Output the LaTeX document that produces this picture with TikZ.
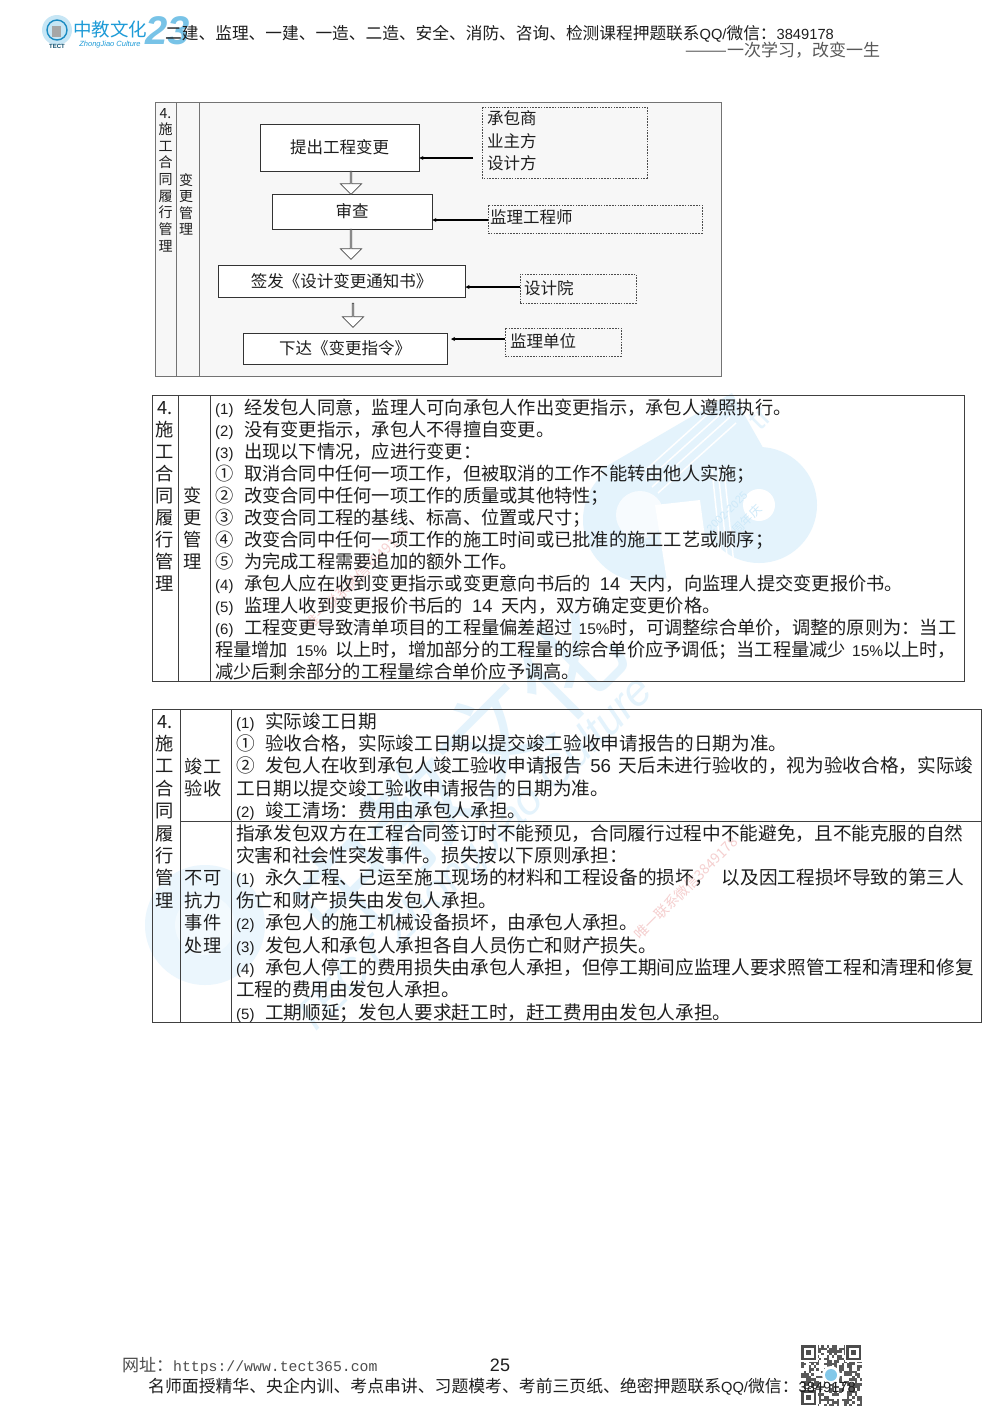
\documentclass[tikz,border=0pt]{standalone}
\usepackage{fontspec}
\setmainfont{Noto Sans CJK SC}
\newfontfamily\latf{Liberation Sans}
\newfontfamily\monof{Liberation Mono}
\usetikzlibrary{shapes.arrows,calc,arrows.meta}
\definecolor{ink}{HTML}{1E1E1E}
\definecolor{wm}{HTML}{E4F3FC}
\definecolor{wmb}{HTML}{CDE9F9}
\definecolor{wmr}{HTML}{F5CFCF}
\definecolor{brand}{HTML}{1E9BD7}
\newcommand{\fs}[1]{\fontsize{#1}{#1}\selectfont}
\newcommand{\Lat}[1]{{\latf #1}}
\newcommand{\Num}[1]{\makebox[29pt][l]{\latf\fs{15}(#1)}}
\newcommand{\Cir}[1]{\makebox[29pt][l]{#1}}
\tikzset{
  txt/.style={anchor=base west,inner sep=0pt,text=ink,font=\fs{18.25},yshift=-7pt},
  tbl/.style={anchor=base west,inner sep=0pt,text=ink,font=\fs{18.65},yshift=-7pt},
  ctr/.style={anchor=base,inner sep=0pt,text=ink,font=\fs{18.25},yshift=-7pt},
  small/.style={anchor=base,inner sep=0pt,text=ink,font=\fs{14},yshift=-5pt},
  lbl/.style={anchor=base west,inner sep=0pt,text=ink,font=\fs{16.5},yshift=-6.6pt},
  head/.style={anchor=base west,inner sep=0pt,text=ink,yshift=-6pt},
  rule/.style={draw=black!75,line width=0.9pt},
  flow/.style={draw=black!80,line width=0.8pt,fill=white,inner sep=0pt,text=ink,font=\fs{16.5}},
  dbox/.style={draw=black!70,dashed,dash pattern=on 1.6pt off 1.2pt,line width=0.7pt},
  leader/.style={draw=black,line width=1.1pt,-{Stealth[length=4pt,width=4pt]}},
  openarrow/.style={single arrow,draw=black!70,fill=white,line width=0.7pt,inner sep=0pt,minimum width=21pt,single arrow head extend=5.2pt,rotate=-90},
  wmtxt/.style={inner sep=0pt,text=wm,rotate=45},
  redmark/.style={inner sep=0pt,text=wmr,rotate=45,font=\fs{14}},
}
\begin{document}
\begin{tikzpicture}[x=1pt,y=-1pt]
\useasboundingbox (0,0) rectangle (1000,1414);
\fill[white] (0,0) rectangle (1000,1414);

% ---------- watermark ----------
\fill[wm] (645,520) circle[radius=62pt];
\fill[wm] (600,470) -- (732,393) -- (770,460) -- (690,560) -- cycle;
\fill[wm] (759,505) circle[radius=58pt];
\fill[white] (759,505) circle[radius=16pt];
\fill[white!70!wm] (640,515) circle[radius=24pt];
\fill[white] (700,500) -- (712,590) -- (670,600) -- (655,505) -- cycle;
\foreach \d in {0,6,12,18}{
  \draw[white,line width=1.5pt] ($(640,475)+(\d,\d)$) -- ($(718,405)+(\d,\d)$);
}
\foreach \d in {0,6,12}{
  \draw[white,line width=1.5pt] ($(712,470)+(\d,0)$) -- ($(722,565)+(\d,0)$);
}
\node[wmtxt,font=\latf\fs{30}] (wmtr) at (760,418) {tr};
\node[wmtxt,text=wmb,font=\latf\fs{11}] (wmy) at (727,512) {2002-2025};
\node[wmtxt,text=wmb,font=\fs{12}] (wmz) at (747,520) {周年庆};
\node[wmtxt,font=\fs{105}] (wmbig) at (455,775) {中教文化};
\node[wmtxt,font=\latf\itshape\fs{44}] (wmcult) at (475,857) {TECT ZhongJiao Culture};
\fill[wm!75] (205,925) circle[radius=60pt];
\fill[white!55!wm] (205,925) circle[radius=30pt];
\node[redmark] (red1) at (357,578) {唯一联系微信3849178};
\node[redmark] (red2) at (686,888) {唯一联系微信3849178};

% ---------- header ----------
\fill[brand!25] (57,30) circle[radius=15pt];
\fill[black!35] (52,26) rectangle (61,37);
\draw[brand!90!black,line width=1.4pt] (57,30) circle[radius=10pt];
\node[inner sep=0pt,font=\latf\bfseries\fs{6},text=brand!50!black] (tect) at (57,46) {TECT};
\node[inner sep=0pt,font=\fs{18.5},text=brand] (zj) at (110,29) {中教文化};
\node[inner sep=0pt,font=\latf\itshape\fs{7.5},text=brand] (zjc) at (110,45) {ZhongJiao Culture};
\node[inner sep=0pt,font=\latf\bfseries\itshape\fs{40},text=brand!60] (n23) at (168,31) {23};
\node[head,font=\fs{16.7}] (h1) at (165,33) {二建、监理、一建、一造、二造、安全、消防、咨询、检测课程押题联系\Lat{\fs{14.7}QQ/}微信：\Lat{\fs{14.7}3849178}};
\node[head,font=\fs{17},text=black!65] (h2) at (685,50) {———一次学习，改变一生};

% ---------- table 1: flow panel ----------
\draw[rule,draw=black!55,fill=black!3] (155,102) rectangle (721,376);
\draw[rule,draw=black!55] (176,102) -- (176,376);
\draw[rule,draw=black!55] (199,102) -- (199,376);
\foreach \n/\t/\y in {c1/4./113,c2/施/129,c3/工/146,c4/合/162,c5/同/179,c6/履/196,c7/行/212,c8/管/229,c9/理/246}
  \node[small] (\n) at (165.5,\y) {\t};
\foreach \n/\t/\y in {d1/变/180,d2/更/196,d3/管/213,d4/理/229}
  \node[small] (\n) at (186,\y) {\t};

\node[flow,minimum width=159pt,minimum height=47pt] (b1) at (339.5,147.5) {提出工程变更};
\node[flow,minimum width=160pt,minimum height=35pt] (b2) at (352,211.5) {审查};
\node[flow,minimum width=247pt,minimum height=32pt,line width=1pt] (b3) at (341.5,281) {签发《设计变更通知书》};
\node[flow,minimum width=204pt,minimum height=31pt] (b4) at (345,348.5) {下达《变更指令》};

\node[openarrow,minimum height=23pt] (a1) at (351,182.5) {};
\node[openarrow,minimum height=30pt] (a2) at (351,244) {};
\node[openarrow,minimum height=24pt] (a3) at (353,315) {};

\draw[dbox] (482,107) rectangle (647,178);
\node[lbl] (l1) at (487,118) {承包商};
\node[lbl] (l2) at (487,141) {业主方};
\node[lbl] (l3) at (487,163) {设计方};
\node[dbox,draw,minimum width=214pt,minimum height=28pt,inner sep=0pt] (e2) at (595,219) {};
\node[lbl] (l4) at (490,217) {监理工程师};
\node[dbox,draw,minimum width=116pt,minimum height=29pt,inner sep=0pt] (e3) at (578,288.5) {};
\node[lbl] (l5) at (524,288) {设计院};
\node[dbox,draw,minimum width=116pt,minimum height=28pt,inner sep=0pt] (e4) at (563,342) {};
\node[lbl] (l6) at (510,341) {监理单位};

\coordinate (s1) at (473,158);
\draw[leader] (s1) -- (b1.east |- s1);
\coordinate (s2) at (488,220);
\draw[leader] (e2.west |- s2) -- (b2.east |- s2);
\coordinate (s3) at (520,287);
\draw[leader] (e3.west |- s3) -- (b3.east |- s3);
\coordinate (s4) at (505,339);
\coordinate (s4t) at (451,339);
\draw[leader] (e4.west |- s4) -- (s4t);

% ---------- table 2 ----------
\draw[rule] (152,395) rectangle (964,681);
\draw[rule] (178.5,395) -- (178.5,681);
\draw[rule] (210,395) -- (210,681);
\foreach \n/\t/\y in {f1/4./407,f2/施/429,f3/工/451,f4/合/473,f5/同/495,f6/履/517,f7/行/539,f8/管/561,f9/理/583}
  \node[ctr] (\n) at (165,\y) {\t};
\node[ctr] (g1) at (193,495) {变};
\node[ctr] (g2) at (193,517) {更};
\node[ctr] (g3) at (193,539) {管};
\node[ctr] (g4) at (193,561) {理};
\node[txt] (p1) at (215,407) {\Num{1}经发包人同意，监理人可向承包人作出变更指示，承包人遵照执行。};
\node[txt] (p2) at (215,429) {\Num{2}没有变更指示，承包人不得擅自变更。};
\node[txt] (p3) at (215,451) {\Num{3}出现以下情况，应进行变更：};
\node[txt] (p4) at (215,473) {\Cir{①}取消合同中任何一项工作，但被取消的工作不能转由他人实施；};
\node[txt] (p5) at (215,495) {\Cir{②}改变合同中任何一项工作的质量或其他特性；};
\node[txt] (p6) at (215,517) {\Cir{③}改变合同工程的基线、标高、位置或尺寸；};
\node[txt] (p7) at (215,539) {\Cir{④}改变合同中任何一项工作的施工时间或已批准的施工工艺或顺序；};
\node[txt] (p8) at (215,561) {\Cir{⑤}为完成工程需要追加的额外工作。};
\node[txt] (p9) at (215,583) {\Num{4}承包人应在收到变更指示或变更意向书后的\hspace{9pt}\Lat{14}\hspace{9pt}天内，向监理人提交变更报价书。};
\node[txt] (p10) at (215,605) {\Num{5}监理人收到变更报价书后的\hspace{9pt}\Lat{14}\hspace{9pt}天内，双方确定变更价格。};
\node[txt] (p11) at (215,627) {\Num{6}工程变更导致清单项目的工程量偏差超过\hspace{6pt}\Lat{\fs{15.5}15\%}时，可调整综合单价，调整的原则为：当工};
\node[txt] (p12) at (215,649) {程量增加\hspace{8pt}\Lat{\fs{15.5}15\%}\hspace{8pt}以上时，增加部分的工程量的综合单价应予调低；当工程量减少\hspace{6pt}\Lat{\fs{15.5}15\%}以上时，};
\node[txt] (p13) at (215,671) {减少后剩余部分的工程量综合单价应予调高。};

% ---------- table 3 ----------
\draw[rule] (152,709) rectangle (981,1022);
\draw[rule] (180,709) -- (180,1022);
\draw[rule] (231,709) -- (231,1022);
\draw[rule] (180,821) -- (981,821);
\foreach \n/\t/\y in {m1/4./721,m2/施/743,m3/工/765,m4/合/788,m5/同/810,m6/履/833,m7/行/855,m8/管/877,m9/理/900}
  \node[ctr] (\n) at (165,\y) {\t};
\foreach \n/\t/\y in {k1/竣工/766,k2/验收/788,k3/不可/877,k4/抗力/900,k5/事件/922,k6/处理/945}
  \node[ctr] (\n) at (203,\y) {\t};
\node[tbl] (q1) at (236,721) {\Num{1}实际竣工日期};
\node[tbl] (q2) at (236,743) {\Cir{①}验收合格，实际竣工日期以提交竣工验收申请报告的日期为准。};
\node[tbl] (q3) at (236,765) {\Cir{②}发包人在收到承包人竣工验收申请报告\hspace{8pt}\Lat{56}\hspace{8pt}天后未进行验收的，视为验收合格，实际竣};
\node[tbl] (q4) at (236,788) {工日期以提交竣工验收申请报告的日期为准。};
\node[tbl] (q5) at (236,810) {\Num{2}竣工清场：费用由承包人承担。};
\node[tbl] (q6) at (236,833) {指承发包双方在工程合同签订时不能预见，合同履行过程中不能避免，且不能克服的自然};
\node[tbl] (q7) at (236,855) {灾害和社会性突发事件。损失按以下原则承担：};
\node[tbl] (q8) at (236,877) {\Num{1}永久工程、已运至施工现场的材料和工程设备的损坏，\hspace{9pt}以及因工程损坏导致的第三人};
\node[tbl] (q9) at (236,900) {伤亡和财产损失由发包人承担。};
\node[tbl] (q10) at (236,922) {\Num{2}承包人的施工机械设备损坏，由承包人承担。};
\node[tbl] (q11) at (236,945) {\Num{3}发包人和承包人承担各自人员伤亡和财产损失。};
\node[tbl] (q12) at (236,967) {\Num{4}承包人停工的费用损失由承包人承担，但停工期间应监理人要求照管工程和清理和修复};
\node[tbl] (q13) at (236,989) {工程的费用由发包人承担。};
\node[tbl] (q14) at (236,1012) {\Num{5}工期顺延；发包人要求赶工时，赶工费用由发包人承担。};

% ---------- footer ----------
\pgfmathsetseed{11}
\foreach \i in {0,...,23}{\foreach \j in {0,...,23}{
  \pgfmathparse{rnd<0.5?1:0}
  \ifnum\pgfmathresult=1
    \fill[black!65] ({801+\i*2.55},{1345+\j*2.55}) rectangle ++(2.55,2.55);
  \fi
}}
\foreach \x/\y in {801/1345,846/1345,801/1390}{
  \fill[white] (\x-1,\y-1) rectangle ++(18,18);
  \fill[black!70] (\x,\y) rectangle ++(15,15);
  \fill[white] (\x+2.5,\y+2.5) rectangle ++(10,10);
  \fill[black!70] (\x+5,\y+5) rectangle ++(5,5);
}
\fill[white] (831,1375) circle[radius=9pt];
\fill[brand!55] (831,1375) circle[radius=6pt];
\node[head,font=\fs{17},text=black!70] (w1) at (122,1365) {网址：{\monof\fs{14.8}https://www.tect365.com}};
\node[inner sep=0pt,font=\latf\fs{18},text=ink] (pg) at (500,1365) {25};
\node[head,font=\fs{16.85}] (w2) at (148,1386) {名师面授精华、央企内训、考点串讲、习题模考、考前三页纸、绝密押题联系\Lat{\fs{14.7}QQ/}微信：\Lat{\fs{14.7}3849178}};
\end{tikzpicture}
\end{document}
